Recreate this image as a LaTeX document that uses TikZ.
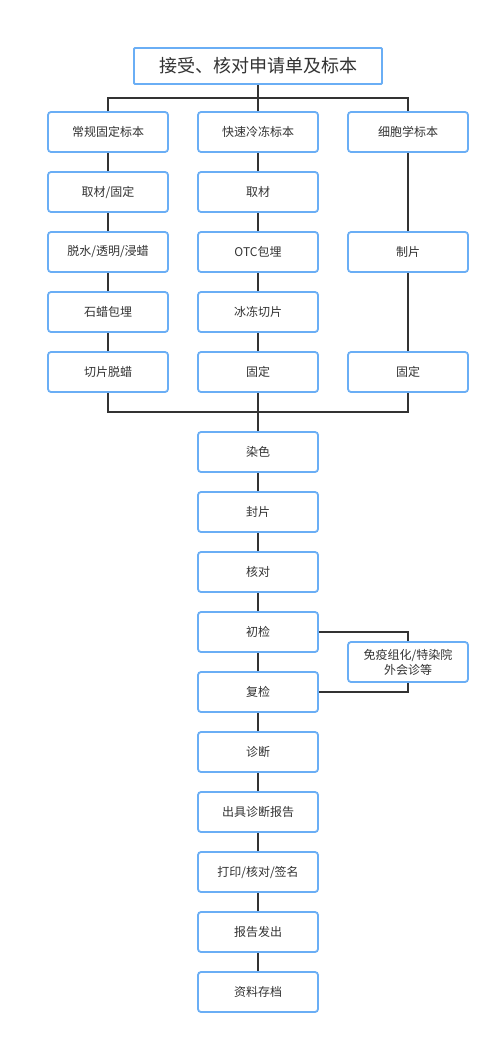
\documentclass[tikz,border=0pt]{standalone}
\usepackage{fontspec}
\setmainfont{Noto Sans CJK SC}
\begin{document}
\begin{tikzpicture}[x=1pt,y=-1pt,
  box/.style={draw=boxblue,line width=1.8pt,rounded corners=3pt,fill=white,minimum width=120pt,minimum height=40pt,inner sep=0pt,text=txt,font=\fontsize{12}{15}\selectfont,align=center},
  titlebox/.style={draw=boxblue,line width=1.8pt,rounded corners=1pt,fill=white,minimum width=248pt,minimum height=36pt,inner sep=0pt,text=txt,font=\fontsize{18}{22}\selectfont},
  conn/.style={draw=linec,line width=1.8pt}]
\definecolor{boxblue}{HTML}{6AAEF5}
\definecolor{linec}{HTML}{333333}
\definecolor{txt}{HTML}{333333}
\useasboundingbox (0,0) rectangle (500,1043);
\fill[white] (0,0) rectangle (500,1043);
% title
\node[titlebox] (t) at (258,66) {接受、核对申请单及标本};
% column 1
\node[box] (a1) at (108,132) {常规固定标本};
\node[box] (a2) at (108,192) {取材/固定};
\node[box] (a3) at (108,252) {脱水/透明/浸蜡};
\node[box] (a4) at (108,312) {石蜡包埋};
\node[box] (a5) at (108,372) {切片脱蜡};
% column 2
\node[box] (b1) at (258,132) {快速冷冻标本};
\node[box] (b2) at (258,192) {取材};
\node[box] (b3) at (258,252) {OTC包埋};
\node[box] (b4) at (258,312) {冰冻切片};
\node[box] (b5) at (258,372) {固定};
% column 3
\node[box] (c1) at (408,132) {细胞学标本};
\node[box] (c3) at (408,252) {制片};
\node[box] (c5) at (408,372) {固定};
% main chain
\node[box] (m1) at (258,452) {染色};
\node[box] (m2) at (258,512) {封片};
\node[box] (m3) at (258,572) {核对};
\node[box] (m4) at (258,632) {初检};
\node[box] (m5) at (258,692) {复检};
\node[box] (m6) at (258,752) {诊断};
\node[box] (m7) at (258,812) {出具诊断报告};
\node[box] (m8) at (258,872) {打印/核对/签名};
\node[box] (m9) at (258,932) {报告发出};
\node[box] (m10) at (258,992) {资料存档};
\node[box] (s) at (408,662) {免疫组化/特染院\\外会诊等};
% coordinates
\coordinate (j1) at (258,98);
\coordinate (j2) at (258,412);
% connectors
\draw[conn] (t.south) -- (j1);
\draw[conn] (a1.north) |- (j1) -| (c1.north);
\draw[conn] (j1) -- (b1.north);
\draw[conn] (a1) -- (a2);
\draw[conn] (a2) -- (a3);
\draw[conn] (a3) -- (a4);
\draw[conn] (a4) -- (a5);
\draw[conn] (b1) -- (b2);
\draw[conn] (b2) -- (b3);
\draw[conn] (b3) -- (b4);
\draw[conn] (b4) -- (b5);
\draw[conn] (c1) -- (c3);
\draw[conn] (c3) -- (c5);
\draw[conn] (a5.south) |- (j2) -| (c5.south);
\draw[conn] (b5.south) -- (m1.north);
\draw[conn] (m1) -- (m2);
\draw[conn] (m2) -- (m3);
\draw[conn] (m3) -- (m4);
\draw[conn] (m4) -- (m5);
\draw[conn] (m5) -- (m6);
\draw[conn] (m6) -- (m7);
\draw[conn] (m7) -- (m8);
\draw[conn] (m8) -- (m9);
\draw[conn] (m9) -- (m10);
\draw[conn] (m4.east) -| (s.north);
\draw[conn] (s.south) |- (m5.east);
\end{tikzpicture}
\end{document}
